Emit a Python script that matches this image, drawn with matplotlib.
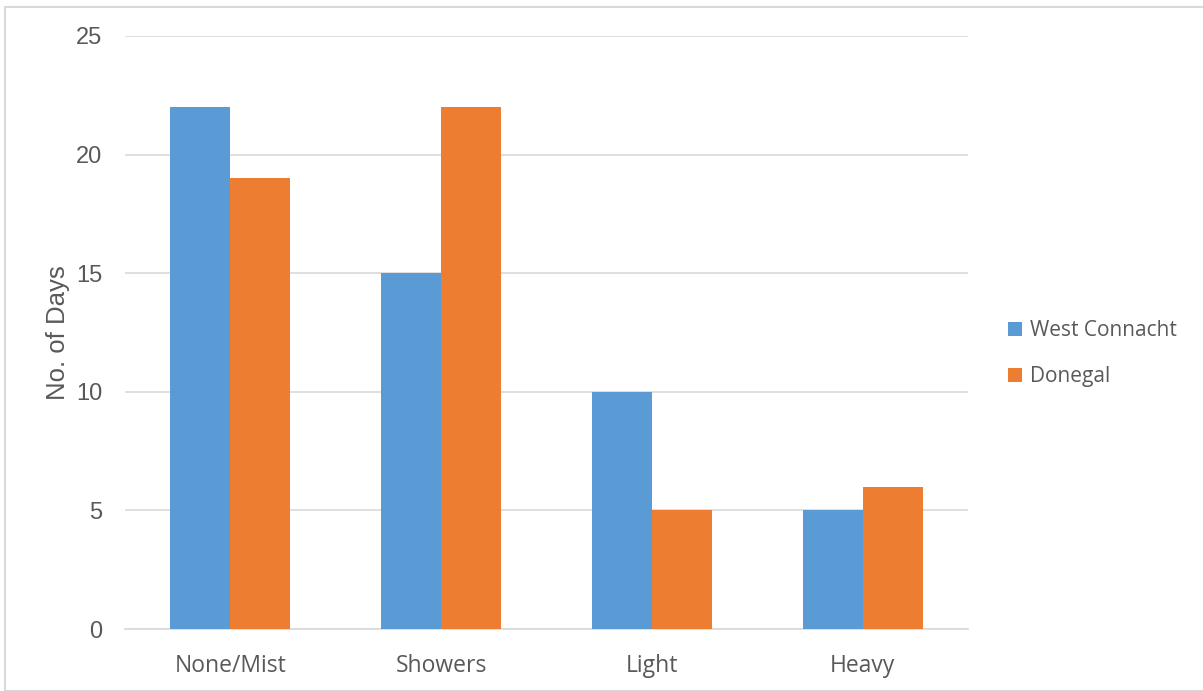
import matplotlib
matplotlib.use("Agg")
import matplotlib.pyplot as plt
from matplotlib.patches import Rectangle
import numpy as np

categories = ["None/Mist", "Showers", "Light", "Heavy"]
west_connacht = [22, 15, 10, 5]
donegal = [19, 22, 5, 6]
y_ticks = [0, 5, 10, 15, 20, 25]

plt.rcParams["font.family"] = ["Open Sans", "DejaVu Sans"]
text_color = "#595959"
blue = "#5B9BD5"
orange = "#ED7D31"

W, H = 1203, 691
fig = plt.figure(figsize=(W / 100, H / 100), dpi=100)
ax = fig.add_axes([125 / W, 1 - 629 / H, (968 - 125) / W, (629 - 36) / H])

x = np.arange(len(categories))
bw = 0.285
ax.bar(x - bw / 2, west_connacht, bw, color=blue, label="West Connacht", zorder=3)
ax.bar(x + bw / 2, donegal, bw, color=orange, label="Donegal", zorder=3)

ax.set_xlim(-0.5, len(categories) - 0.5)
ax.set_ylim(0, 25)
ax.set_yticks(y_ticks)
ax.set_xticks(x)
ax.set_xticklabels(categories)
ax.grid(axis="y", color="#d9d9d9", linewidth=1.2, zorder=0)
for s in ["top", "right", "left"]:
    ax.spines[s].set_visible(False)
ax.spines["bottom"].set_color("#d9d9d9")
ax.spines["bottom"].set_linewidth(1.2)
ax.tick_params(axis="both", length=0, colors=text_color)
ax.tick_params(axis="x", pad=18, labelsize=16.5)
ax.tick_params(axis="y", pad=16.5, labelsize=17)
for lbl in ax.get_yticklabels():
    lbl.set_fontfamily(["Liberation Sans", "DejaVu Sans"])
ax.set_ylabel("No. of Days", fontsize=18.5, color=text_color, labelpad=4,
              family=["Liberation Sans", "DejaVu Sans"])

handles, labels = ax.get_legend_handles_labels()
fig.legend(handles=handles, labels=labels,
           loc="upper left", bbox_to_anchor=(1008 / W, 1 - 320 / H),
           frameon=False, borderpad=0, borderaxespad=0,
           fontsize=15, labelcolor=text_color, handlelength=0.65, handleheight=0.65,
           handletextpad=0.4, labelspacing=1.2)

# chart-area outline
fig.patches.append(Rectangle((5 / W, 0), 1.2, 1 - 7 / H, transform=fig.transFigure,
                             fill=False, edgecolor="#d9d9d9", linewidth=1.5))

fig.savefig("out.png", dpi=100)
